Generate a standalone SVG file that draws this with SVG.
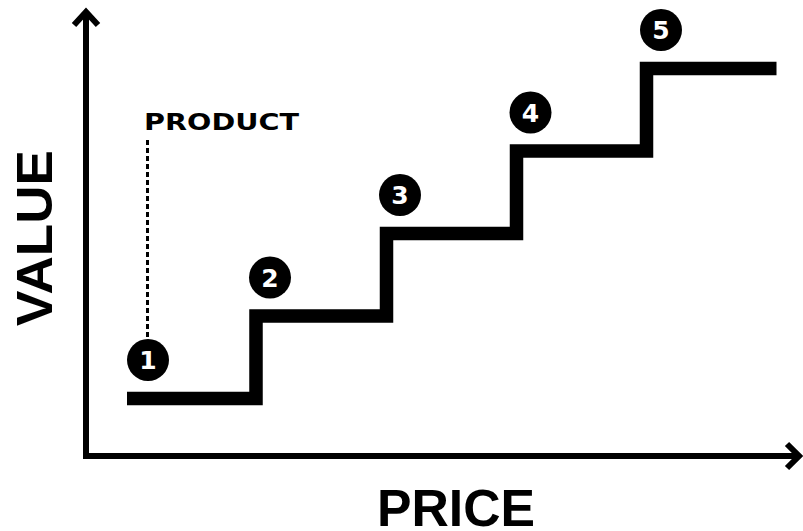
<svg xmlns="http://www.w3.org/2000/svg" width="803" height="531" viewBox="0 0 803 531">
<style>
.axis{fill:none;stroke:#000;stroke-width:6;stroke-linejoin:miter;stroke-linecap:butt}
.stair{fill:none;stroke:#000;stroke-width:13.5;stroke-linejoin:miter;stroke-linecap:butt}
.dot{fill:#000}
.num{fill:#fff;font-family:"DejaVu Sans","Liberation Sans",sans-serif;font-weight:bold;font-size:25px;text-anchor:middle}
.lbl{fill:#000;font-family:"Liberation Sans",Arial,sans-serif;font-weight:bold}
</style>
<rect width="803" height="531" fill="#fff"/>
<g id="connectors">
<path class="axis" d="M86,12 V459 M83,456 H799"/>
<path class="axis" d="M74,25 L86,12 L98,25"/>
<path class="axis" d="M787,444 L799,456 L787,468"/>
<path class="stair" d="M127,398.5 H256 V316 H386.5 V233.5 H516.5 V151 H646.5 V68.5 H776.5"/>
<path d="M147.5,140 V339" fill="none" stroke="#000" stroke-width="3" stroke-dasharray="5,3"/>
</g>
<g id="label-product"><text x="144" y="130" font-family="'DejaVu Sans','Liberation Sans',sans-serif" font-weight="bold" font-size="23" textLength="155" lengthAdjust="spacingAndGlyphs">PRODUCT</text></g>
<g id="label-value"><text class="lbl" font-size="50" text-anchor="middle" transform="translate(52,238) rotate(-90)" textLength="176" lengthAdjust="spacingAndGlyphs">VALUE</text></g>
<g id="label-price"><text class="lbl" x="456" y="526" font-size="51" text-anchor="middle" textLength="158" lengthAdjust="spacingAndGlyphs">PRICE</text></g>
<g id="node1"><circle class="dot" cx="148" cy="360" r="21"/><text class="num" x="148" y="369">1</text></g>
<g id="node2"><circle class="dot" cx="270" cy="277.5" r="21"/><text class="num" x="270" y="286.5">2</text></g>
<g id="node3"><circle class="dot" cx="400" cy="195" r="21"/><text class="num" x="400" y="204">3</text></g>
<g id="node4"><circle class="dot" cx="530.5" cy="112.5" r="21"/><text class="num" x="530.5" y="121.5">4</text></g>
<g id="node5"><circle class="dot" cx="661" cy="30" r="21"/><text class="num" x="661" y="39">5</text></g>
</svg>
